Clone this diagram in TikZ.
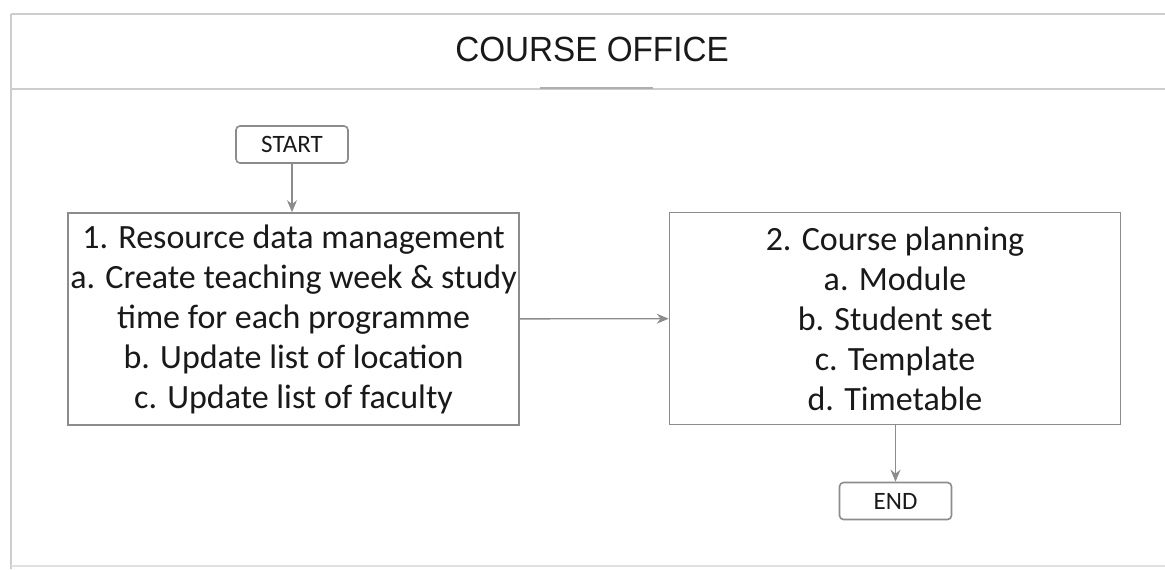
\documentclass[tikz,border=0pt]{standalone}
\usepackage{fontspec}
\setmainfont{Carlito}
\newfontfamily\titlefont{Liberation Sans}
\usetikzlibrary{arrows.meta}
\definecolor{linegray}{RGB}{140,140,140}
\definecolor{framegray}{RGB}{205,205,205}
\definecolor{txt}{RGB}{25,25,25}
\begin{document}
\begin{tikzpicture}[x=0.5pt,y=-0.5pt,
  procbox/.style={draw=linegray, line width=0.8pt, fill=white, minimum width=225.5pt, minimum height=106pt, align=center, text=txt, font=\fontsize{17}{20}\selectfont, inner sep=0pt},
  termbox/.style={draw=linegray, line width=0.8pt, rounded corners=2pt, minimum width=56pt, minimum height=18.5pt, text=txt, font=\fontsize{12.5}{14}\selectfont, inner sep=0pt},
  conn/.style={draw=linegray, line width=0.7pt, -{Stealth[length=6pt,width=5pt]}}]
\useasboundingbox (0,0) rectangle (1165,569);
% frame
\draw[framegray, line width=1pt] (11,14) -- (1165,14);
\draw[framegray, line width=1.2pt] (11,14) -- (11,569);
\draw[framegray, line width=1.2pt] (11,89) -- (1165,89);
\draw[framegray!60, line width=0.8pt] (11,566) -- (1165,566);
\draw[linegray!70, line width=0.8pt] (540,88) -- (653,88);
\node[font=\titlefont\fontsize{17.5}{20}\selectfont, text=txt, inner sep=0pt] (title) at (592,49.5) {\scalebox{0.95}[1]{COURSE OFFICE}};
% nodes
\node[termbox] (start) at (292,144.5) {START};
\node[procbox] (p1) at (293.5,319) {1. Resource data management\\a. Create teaching week \& study\\time for each programme\\b. Update list of location\\c. Update list of faculty};
\node[procbox] (p2) at (895,318.5) {2. Course planning\\a. Module\\b. Student set\\c. Template\\d. Timetable};
\node[termbox] (end) at (895.5,501) {END};
% connectors
\draw[conn] (start) -- (p1.north -| start);
\draw[conn] (p1) -- (p2);
\draw[conn] (p2.south -| end) -- (end);
\end{tikzpicture}
\end{document}
